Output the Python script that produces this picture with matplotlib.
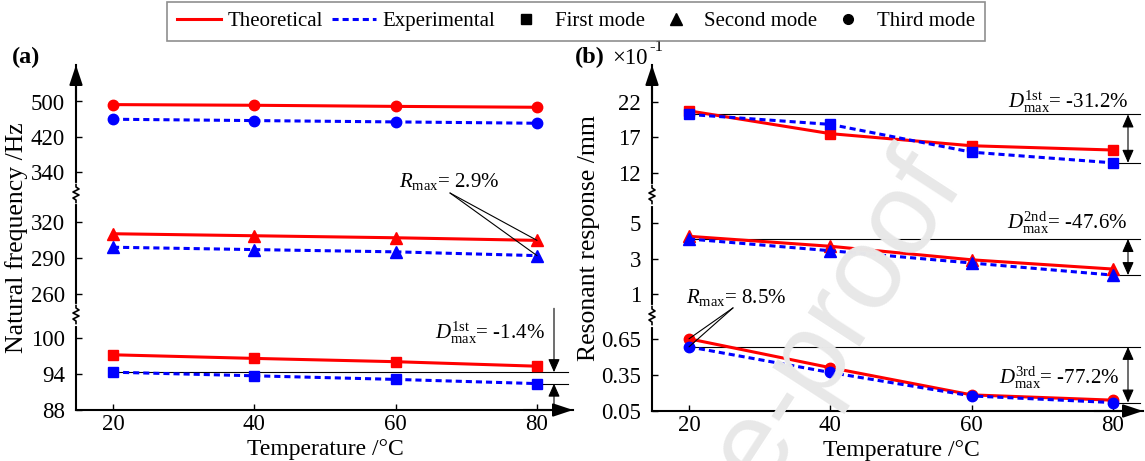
import numpy as np
import matplotlib
matplotlib.use('Agg')
import matplotlib.pyplot as plt
from matplotlib.lines import Line2D
from matplotlib.ticker import NullLocator

plt.rcParams['font.family'] = ['Liberation Serif', 'DejaVu Serif']
plt.rcParams['mathtext.fontset'] = 'custom'
plt.rcParams['mathtext.rm'] = 'Liberation Serif'
plt.rcParams['mathtext.it'] = 'Liberation Serif:italic'
plt.rcParams['font.size'] = 15

temps = [20, 40, 60, 80]

# (a) natural frequency / Hz
freq_theo_1 = [97.2, 96.6, 96.05, 95.3]
freq_exp_1 = [94.3, 93.7, 93.1, 92.4]
freq_theo_2 = [310.5, 308.8, 307.1, 304.9]
freq_exp_2 = [299.1, 297.1, 295.2, 292.0]
freq_theo_3 = [493, 491.5, 489, 487]
freq_exp_3 = [460, 457, 454, 451]

# (b) resonant response / (x0.1 mm)
resp_theo_1 = [20.7, 17.5, 15.8, 15.2]
resp_exp_1 = [20.2, 18.8, 14.9, 13.4]
resp_theo_2 = [4.25, 3.69, 2.93, 2.41]
resp_exp_2 = [4.1, 3.44, 2.75, 2.07]
resp_theo_3 = [0.65, 0.41, 0.184, 0.14]
resp_exp_3 = [0.583, 0.37, 0.175, 0.12]

ticks_a = [88, 94, 100, 260, 290, 320, 340, 420, 500]
ticks_b = [0.05, 0.35, 0.65, 1, 3, 5, 12, 17, 22]
labels_b = ['0.05', '0.35', '0.65', '1', '3', '5', '12', '17', '22']

# broken y axis: three linear pieces, tick slots in px from the bottom
slot_pos = [0, 36, 72, 116.5, 152, 187.5, 237.5, 273, 308.5]
top_pos = 345
break_pos = [95.5, 216.5]


def broken_scale(ticks, ranges):
    vals, pos = [], []
    for k, (lo, hi) in enumerate(ranges):
        t = ticks[3 * k:3 * k + 3]
        p = slot_pos[3 * k:3 * k + 3]
        slope = (p[2] - p[0]) / (t[2] - t[0])
        for v in (lo, hi):
            vals.append(v)
            pos.append(p[0] + (v - t[0]) * slope)
    vals, pos = np.array(vals), np.array(pos)
    return (lambda v: np.interp(v, vals, pos)), (lambda q: np.interp(q, pos, vals))


W, H = 1145, 461
fig = plt.figure(figsize=(W / 100, H / 100), dpi=100)
ax_a = fig.add_axes([76 / W, 1 - 410 / H, 497 / W, 345 / H])
ax_b = fig.add_axes([652 / W, 1 - 411 / H, 491 / W, 346 / H])

px_per_deg = 424 / 60
head = '-|>,head_length=0.6,head_width=0.2'


def setup(ax, ticks, labels, ranges, wpx, hpx):
    fwd, inv = broken_scale(ticks, ranges)
    ax.set_yscale('function', functions=(fwd, inv))
    ax.set_ylim(inv(0), inv(top_pos))
    xmin, xmax = 20 - 37 / px_per_deg, 20 + (wpx - 37) / px_per_deg
    ax.set_xlim(xmin, xmax)
    ax.set_yticks(ticks)
    ax.set_yticklabels(labels)
    ax.yaxis.set_minor_locator(NullLocator())
    ax.set_xticks(temps)
    ax.tick_params(direction='in', length=4, width=1, pad=8, labelsize=16.5)
    ax.tick_params(axis='x', pad=3)
    for s in ['top', 'right']:
        ax.spines[s].set_visible(False)
    for s in ['left', 'bottom']:
        ax.spines[s].set_linewidth(1.5)
    ax.annotate('', xy=(0, 1), xytext=(0, 0.9), xycoords='axes fraction',
                arrowprops=dict(arrowstyle=head, lw=1.5, color='k', mutation_scale=20,
                                shrinkA=0, shrinkB=0))
    ax.annotate('', xy=(1, 0), xytext=(0.9, 0), xycoords='axes fraction',
                arrowprops=dict(arrowstyle=head, lw=1.5, color='k', mutation_scale=20,
                                shrinkA=0, shrinkB=0))
    # zigzag breaks on the y axis
    dx, dy = 1 / wpx, 1 / hpx
    zig = [(0, 9), (0, 6.5), (3, 4.5), (-3, 1.5), (3, -1.5), (-3, -4.5), (0, -6.5), (0, -9)]
    for bp in break_pos:
        yc = bp / hpx
        ax.plot([0, 0], [yc - 9 * dy, yc + 9 * dy], color='white', lw=3,
                transform=ax.transAxes, clip_on=False, zorder=5)
        ax.plot([p[0] * dx for p in zig], [yc + p[1] * dy for p in zig], color='k', lw=1.2,
                transform=ax.transAxes, clip_on=False, zorder=6)
    ax.set_xlabel('Temperature /°C', fontsize=17)
    ax.xaxis.set_label_coords((50 - xmin) / (xmax - xmin), -0.085)


setup(ax_a, ticks_a, [str(t) for t in ticks_a], [(60, 103.5), (241, 330), (331, 700)], 497, 345)
setup(ax_b, ticks_b, labels_b, [(-1, 0.8), (0.9, 6.5), (9, 40)], 491, 346)
ax_a.set_ylabel('Natural frequency /Hz', fontsize=18.5, labelpad=2)
ax_b.set_ylabel('Resonant response /mm', fontsize=18.5, labelpad=1)

red, blue = '#ff0000', '#0000ff'
markers = ['s', '^', 'o']


def draw(ax, theo, exp):
    for t, e, m in zip(theo, exp, markers):
        ms = 8.5 if m == '^' else 7.5
        ax.plot(temps, t, color=red, lw=2.2, marker=m, ms=ms, zorder=3)
        ln, = ax.plot(temps, e, color=blue, lw=2.2, ls='--', marker=m, ms=ms, zorder=3)
        ln.set_dashes([2.0, 1.3])


draw(ax_a, [freq_theo_1, freq_theo_2, freq_theo_3], [freq_exp_1, freq_exp_2, freq_exp_3])
draw(ax_b, [resp_theo_1, resp_theo_2, resp_theo_3], [resp_exp_1, resp_exp_2, resp_exp_3])

thin = dict(color='k', lw=0.8)
arrow1 = dict(arrowstyle='-|>,head_length=0.5,head_width=0.22', color='k', lw=0.8,
              mutation_scale=16, shrinkA=0, shrinkB=0)
arrow2 = dict(arrowstyle='<|-|>,head_length=0.5,head_width=0.22', color='k', lw=0.8,
              mutation_scale=16, shrinkA=0, shrinkB=0)
line_end_a = 20 + (568 - 113) / px_per_deg
arr_x_a = 20 + (554 - 113) / px_per_deg
line_end_b = 20 + (1140 - 689) / px_per_deg
arr_x_b = 20 + (1128 - 689) / px_per_deg

# (a) annotations
ax_a.plot([temps[0], line_end_a], [freq_exp_1[0]] * 2, clip_on=False, zorder=2, **thin)
ax_a.plot([temps[-1], line_end_a], [freq_exp_1[-1]] * 2, clip_on=False, zorder=2, **thin)
ax_a.annotate('', xy=(arr_x_a, freq_exp_1[0]), xytext=(0, 46), textcoords='offset points',
              arrowprops=arrow1)
ax_a.annotate('', xy=(arr_x_a, freq_exp_1[-1]), xytext=(0, -15), textcoords='offset points',
              arrowprops=arrow1)
ax_a.text(0.944, 0.223, r'$D_{\rm max}^{\rm 1st}$= -1.4%', transform=ax_a.transAxes,
          ha='right', va='center', fontsize=15)
ax_a.text(0.75, 0.661, r'$R_{\rm max}$= 2.9%', transform=ax_a.transAxes,
          ha='center', va='center', fontsize=15)
for v in (freq_theo_2[-1], freq_exp_2[-1]):
    ax_a.annotate('', xy=(temps[-1], v), xytext=(0.7525, 0.629), textcoords='axes fraction',
                  arrowprops=dict(arrowstyle='-', color='k', lw=0.8, shrinkA=0, shrinkB=0))

# (b) annotations
d_texts = [(r'$D_{\rm max}^{\rm 1st}$= -31.2%', 0.969, 0.894),
           (r'$D_{\rm max}^{\rm 2nd}$= -47.6%', 0.967, 0.544),
           (r'$D_{\rm max}^{\rm 3rd}$= -77.2%', 0.952, 0.095)]
for e, (txt, tx, ty) in zip([resp_exp_1, resp_exp_2, resp_exp_3], d_texts):
    ax_b.plot([temps[0], line_end_b], [e[0]] * 2, clip_on=False, zorder=2, **thin)
    ax_b.plot([temps[-1], line_end_b], [e[-1]] * 2, clip_on=False, zorder=2, **thin)
    ax_b.annotate('', xy=(arr_x_b, e[0]), xytext=(arr_x_b, e[-1]), arrowprops=arrow2)
    ax_b.text(tx, ty, txt, transform=ax_b.transAxes, ha='right', va='center', fontsize=15)
ax_b.text(0.171, 0.329, r'$R_{\rm max}$= 8.5%', transform=ax_b.transAxes,
          ha='center', va='center', fontsize=15)
for v in (resp_theo_3[0], resp_exp_3[0]):
    ax_b.annotate('', xy=(temps[0], v), xytext=(0.165, 0.298), textcoords='axes fraction',
                  arrowprops=dict(arrowstyle='-', color='k', lw=0.8, shrinkA=0, shrinkB=0))

# panel labels
fig.text(26 / W, 1 - 57 / H, '(a)', fontsize=17.5, fontweight='bold', ha='center', va='center')
fig.text(590 / W, 1 - 57 / H, '(b)', fontsize=17.5, fontweight='bold', ha='center', va='center')
fig.text(612 / W, 1 - 58 / H, '×10', fontsize=16.5, ha='left', va='center')
fig.text(649 / W, 1 - 47 / H, '-1', fontsize=12, ha='left', va='center')

# watermark
fig.text(940 / W, 1 - 168 / H, 'Journal Pre-proof', fontsize=84, color='#e8e8e8',
         family='Liberation Sans', rotation=57, ha='right', va='center',
         rotation_mode='anchor', zorder=0)

handles = [Line2D([], [], color=red, lw=2.2),
           Line2D([], [], color=blue, lw=2.2, ls=(0, (2.0, 1.3))),
           Line2D([], [], color='k', marker='s', ls='none', ms=7),
           Line2D([], [], color='k', marker='^', ls='none', ms=8),
           Line2D([], [], color='k', marker='o', ls='none', ms=7)]
names = ['Theoretical', 'Experimental', 'First mode', 'Second mode', 'Third mode']
leg = fig.legend(handles, names, loc='center', bbox_to_anchor=(576 / W, 1 - 21.5 / H), ncol=5,
                 fontsize=15, frameon=True, fancybox=False, edgecolor='0.45',
                 handlelength=2.1, handletextpad=0.33, columnspacing=0.43,
                 borderpad=0.45, numpoints=1)
leg.get_frame().set_linewidth(1.2)

fig.savefig('out.png', dpi=100)
